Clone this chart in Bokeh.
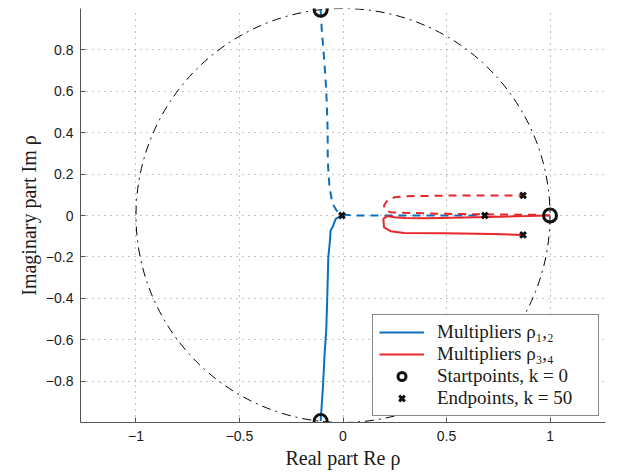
import numpy as np
from bokeh.plotting import figure
from bokeh.models import Range1d, Legend, LegendItem, FixedTicker
from bokeh.embed import file_html
from bokeh.resources import INLINE

# ---- data ----
# Multipliers rho_1 (solid blue) : from start point (bottom of unit circle) to near origin
rho1_re = [-0.108, -0.097, -0.089, -0.081, -0.076, -0.071, -0.063, -0.060, -0.051, -0.035, -0.011, -0.005]
rho1_im = [-0.993, -0.831, -0.670, -0.557, -0.396, -0.202, -0.121, -0.073, -0.057, -0.016, -0.003, 0.0]
# Multipliers rho_2 (dashed blue) : from top of unit circle down to origin, then along real axis
rho2_re = [-0.108, -0.102, -0.095, -0.089, -0.083, -0.079, -0.076, -0.074, -0.074, -0.071, -0.065, -0.051, -0.031, -0.011, 0.05, 0.3, 0.5, 0.685]
rho2_im = [0.994, 0.888, 0.807, 0.726, 0.638, 0.557, 0.476, 0.396, 0.299, 0.218, 0.137, 0.057, 0.024, 0.005, 0.0, 0.0, 0.0, 0.0]
# Multipliers rho_3 (solid red)
rho3_re = [1.0, 0.891, 0.649, 0.408, 0.300, 0.246, 0.214, 0.195, 0.198, 0.230, 0.295, 0.488, 0.730, 0.870]
rho3_im = [0.0, -0.003, -0.008, -0.013, -0.012, -0.008, -0.002, -0.016, -0.057, -0.076, -0.084, -0.086, -0.089, -0.094]
# Multipliers rho_4 (dashed red)
rho4_re = [1.0, 0.971, 0.730, 0.488, 0.296, 0.230, 0.206, 0.198, 0.214, 0.250, 0.295, 0.569, 0.870]
rho4_im = [0.0, 0.003, 0.005, 0.008, 0.013, 0.016, 0.024, 0.048, 0.073, 0.088, 0.093, 0.097, 0.097]
# Start points (k = 0) and end points (k = 50)
start_re = [-0.108, -0.108, 1.0]
start_im = [0.994, -0.993, 0.0]
end_re = [-0.005, 0.685, 0.870, 0.870]
end_im = [0.0, 0.0, 0.097, -0.094]

x_ticks = [-1, -0.5, 0, 0.5, 1]
x_tick_labels = ["\u22121", "\u22120.5", "0", "0.5", "1"]
y_ticks = [-0.8, -0.6, -0.4, -0.2, 0, 0.2, 0.4, 0.6, 0.8]
y_tick_labels = ["\u22120.8", "\u22120.6", "\u22120.4", "\u22120.2", "0", "0.2", "0.4", "0.6", "0.8"]

BLUE = "#0b6fbd"
RED = "#e8262b"
SERIF = "Liberation Serif"
SANS = "Liberation Sans"

p = figure(width=620, height=474, output_backend="svg", toolbar_location=None,
           x_range=Range1d(-1.268, 1.268), y_range=Range1d(-1.0, 1.0),
           min_border_left=80, min_border_right=15, min_border_top=8, min_border_bottom=52,
           background_fill_color="white", border_fill_color="white")
p.outline_line_color = None

# axes
for ax, ticks, labels in ((p.xaxis[0], x_ticks, x_tick_labels), (p.yaxis[0], y_ticks, y_tick_labels)):
    ax.ticker = FixedTicker(ticks=ticks)
    ax.major_label_overrides = {t: l for t, l in zip(ticks, labels)}
    ax.minor_tick_line_color = None
    ax.major_tick_in = 5
    ax.major_tick_out = 0
    ax.axis_line_color = "#555555"
    ax.major_tick_line_color = "#555555"
    ax.major_label_text_font = SANS
    ax.major_label_text_font_size = "14px"
    ax.major_label_text_color = "#1a1a1a"
    ax.axis_label_text_font = SERIF
    ax.axis_label_text_font_style = "normal"
    ax.axis_label_text_font_size = "20px"
    ax.axis_label_text_color = "#1a1a1a"
p.xaxis.axis_label = "Real part Re \u03c1"
p.yaxis.axis_label = "Imaginary part Im \u03c1"
p.xaxis.major_label_standoff = 8
p.yaxis.major_label_standoff = 7
p.xaxis.axis_label_standoff = 3
p.yaxis.axis_label_standoff = 3

# grid
for g in (p.xgrid[0], p.ygrid[0]):
    g.grid_line_color = "#8a8a8a"
    g.grid_line_dash = "1 5"
    g.grid_line_width = 1

# unit circle (dash-dot)
p.ellipse(x=[0], y=[0], width=[2], height=[2], fill_color=None, line_color="black",
          line_width=1, line_dash="9 5 2 5")

# curves
r_b2 = p.line(rho2_re, rho2_im, line_color=BLUE, line_width=2, line_dash="8 6")
r_b1 = p.line(rho1_re, rho1_im, line_color=BLUE, line_width=2)
r_r4 = p.line(rho4_re, rho4_im, line_color=RED, line_width=2, line_dash="8 6")
r_r3 = p.line(rho3_re, rho3_im, line_color=RED, line_width=2)

r_start = p.scatter(start_re, start_im, marker="circle", size=13, fill_color=None,
                    line_color="#111111", line_width=3)
r_end = p.scatter(end_re, end_im, marker="x", size=8, line_color="#111111", line_width=3)

legend = Legend(items=[
    LegendItem(label="Multipliers \u03c1\u2081,\u2082", renderers=[r_b1]),
    LegendItem(label="Multipliers \u03c1\u2083,\u2084", renderers=[r_r3]),
    LegendItem(label="Startpoints, k = 0", renderers=[r_start]),
    LegendItem(label="Endpoints, k = 50", renderers=[r_end]),
], location="bottom_right")
legend.label_text_font = SERIF
legend.label_text_font_size = "19px"
legend.label_text_color = "#1a1a1a"
legend.border_line_color = "#111111"
legend.border_line_width = 1
legend.background_fill_color = "white"
legend.background_fill_alpha = 1.0
legend.glyph_width = 45
legend.glyph_height = 20
legend.label_height = 20
legend.label_width = 155
legend.label_standoff = 13
legend.spacing = 0
legend.padding = 6
legend.margin = 6
p.add_layout(legend)

open("out.html", "w").write(file_html(p, INLINE))
